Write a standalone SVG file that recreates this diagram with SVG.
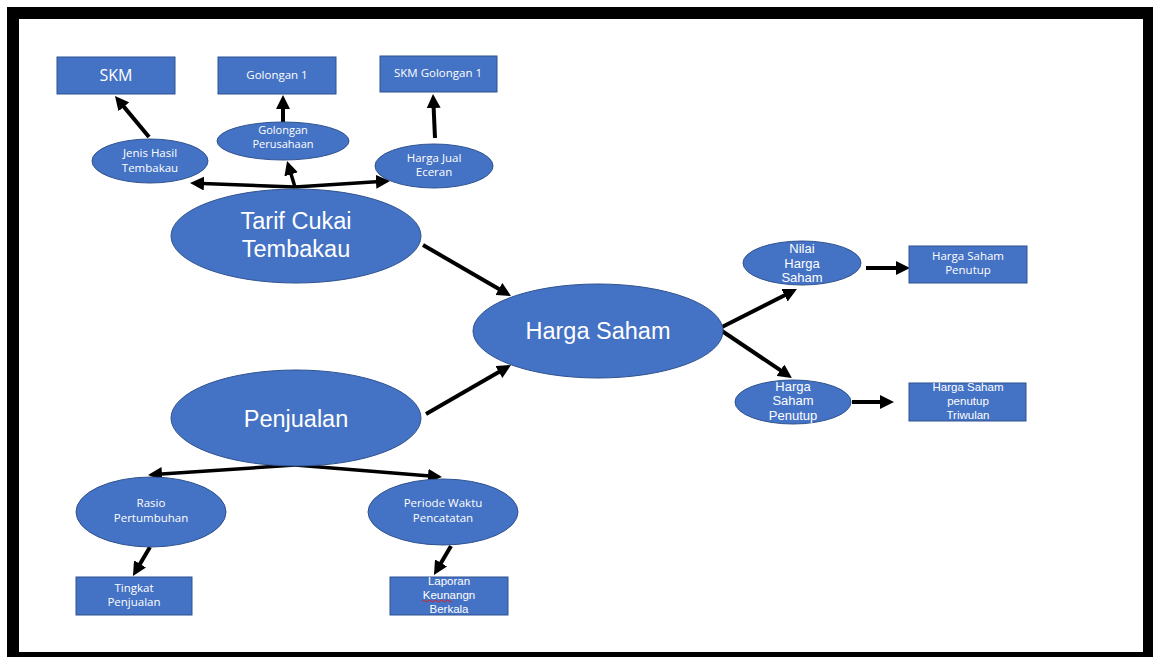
<svg xmlns="http://www.w3.org/2000/svg" width="1153" height="657" viewBox="0 0 1153 657">
<style>
.n{fill:#4472C4;stroke:#2F528F;stroke-width:1}
.t{fill:#ffffff;font-family:"Open Sans","Liberation Sans",sans-serif;text-anchor:middle}
.s{font-size:11.5px}
.m{font-family:"Liberation Sans",Arial,sans-serif;font-size:13px}
.k{font-family:"Liberation Sans",Arial,sans-serif;font-size:11.5px}
.l{font-family:"Liberation Sans",Arial,sans-serif;font-size:23.5px}
.c line{stroke:#000;stroke-width:4;marker-end:url(#ah)}
</style>
<defs>
<marker id="ah" viewBox="0 0 14 14" markerWidth="14" markerHeight="14" markerUnits="userSpaceOnUse" refX="8" refY="7" orient="auto">
<path d="M0,0 L14,7 L0,14 z" fill="#000"/>
</marker>
</defs>
<rect x="0" y="0" width="1153" height="657" fill="#ffffff"/>
<rect x="7" y="7" width="1146" height="650" fill="#000"/>
<rect x="19" y="19" width="1124" height="633" fill="#ffffff"/>

<g id="connectors" class="c">
<line x1="149" y1="137" x2="118.8" y2="100.6"/>
<line x1="283" y1="122" x2="283" y2="101"/>
<line x1="435" y1="138" x2="433.3" y2="100"/>
<line x1="295" y1="187" x2="196" y2="183.2" style="stroke-width:3.5"/>
<line x1="295" y1="187" x2="384" y2="181.3" style="stroke-width:3.5"/>
<line x1="295" y1="187" x2="288.8" y2="166.7" style="stroke-width:3.5"/>
<line x1="423" y1="245" x2="505.8" y2="293"/>
<line x1="426" y1="414" x2="505.8" y2="368"/>
<line x1="722" y1="327" x2="791.6" y2="291.7"/>
<line x1="722" y1="331" x2="787" y2="374.7"/>
<line x1="866" y1="268" x2="904" y2="268"/>
<line x1="852" y1="402" x2="888" y2="402"/>
<line x1="295" y1="465" x2="154" y2="474.6" style="stroke-width:3.5"/>
<line x1="295" y1="465" x2="436" y2="476.5" style="stroke-width:3.5"/>
<line x1="150" y1="547" x2="136" y2="570.8"/>
<line x1="451" y1="546" x2="437" y2="569.8"/>
</g>

<g id="skm"><rect class="n" x="57" y="57" width="118" height="37"/><text class="t" x="116" y="81" style="font-size:16px">SKM</text></g>
<g id="golongan1"><rect class="n" x="218" y="57" width="118" height="37"/><text class="t s" x="277" y="79">Golongan 1</text></g>
<g id="skm-golongan1"><rect class="n" x="380" y="56" width="117" height="36"/><text class="t s" x="438" y="77">SKM Golongan 1</text></g>

<g id="jenis-hasil"><ellipse class="n" cx="150" cy="161" rx="58" ry="22"/><text class="t s" x="150" y="157">Jenis Hasil</text><text class="t s" x="150" y="172">Tembakau</text></g>
<g id="golongan-perusahaan"><ellipse class="n" cx="283" cy="141" rx="66" ry="19"/><text class="t" x="283" y="134" style="font-size:11px">Golongan</text><text class="t" x="283" y="148" style="font-size:11px">Perusahaan</text></g>
<g id="harga-jual"><ellipse class="n" cx="434" cy="166" rx="59" ry="22"/><text class="t s" x="434" y="162">Harga Jual</text><text class="t s" x="434" y="176">Eceran</text></g>

<g id="tarif"><ellipse class="n" cx="296" cy="236" rx="125" ry="47"/><text class="t l" x="296" y="229">Tarif Cukai</text><text class="t l" x="296" y="257">Tembakau</text></g>
<g id="harga-saham"><ellipse class="n" cx="598" cy="331" rx="125" ry="47"/><text class="t l" x="598" y="339">Harga Saham</text></g>
<g id="penjualan"><ellipse class="n" cx="296" cy="418" rx="125" ry="48"/><text class="t l" x="296" y="427">Penjualan</text></g>

<g id="nilai-harga-saham"><ellipse class="n" cx="802" cy="263" rx="59" ry="22"/><text class="t m" x="802" y="253">Nilai</text><text class="t m" x="802" y="267.5">Harga</text><text class="t m" x="802" y="282">Saham</text></g>
<g id="hsp-box"><rect class="n" x="909" y="246" width="118" height="37"/><text class="t s" x="968" y="260">Harga Saham</text><text class="t s" x="968" y="274">Penutup</text></g>
<g id="hsp-ellipse"><ellipse class="n" cx="793" cy="402" rx="58" ry="22"/><text class="t m" x="793" y="390.5">Harga</text><text class="t m" x="793" y="405">Saham</text><text class="t m" x="793" y="419.5">Penutup</text></g>
<g id="triwulan"><rect class="n" x="909" y="383" width="117" height="38"/><text class="t k" x="968" y="391">Harga Saham</text><text class="t k" x="968" y="405">penutup</text><text class="t k" x="968" y="418.5">Triwulan</text></g>

<g id="rasio"><ellipse class="n" cx="151" cy="512" rx="75" ry="35"/><text class="t s" x="151" y="507">Rasio</text><text class="t s" x="151" y="522">Pertumbuhan</text></g>
<g id="periode"><ellipse class="n" cx="443" cy="512" rx="75" ry="33"/><text class="t s" x="443" y="507">Periode Waktu</text><text class="t s" x="443" y="522">Pencatatan</text></g>
<g id="tingkat"><rect class="n" x="76" y="577" width="116" height="38"/><text class="t s" x="134" y="592">Tingkat</text><text class="t s" x="134" y="606">Penjualan</text></g>
<g id="laporan"><rect class="n" x="390" y="577" width="118" height="38"/><text class="t k" x="449" y="585">Laporan</text><text class="t k" x="449" y="599">Keunangn</text><path d="M422,601 q1.5,-2 3,0 t3,0 t3,0 t3,0 t3,0 t3,0 t3,0 t3,0 t3,0 t3,0" fill="none" stroke="#e02020" stroke-width="1"/><text class="t k" x="449" y="612.5">Berkala</text></g>
</svg>
